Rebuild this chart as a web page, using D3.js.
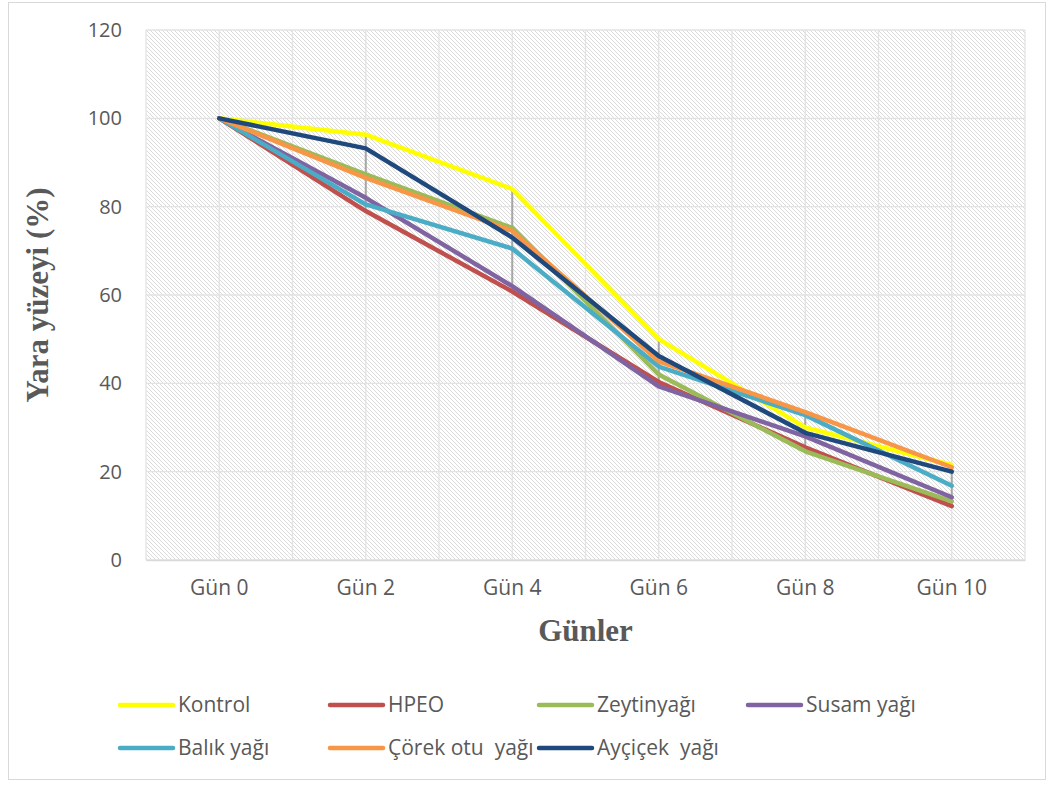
<!DOCTYPE html>
<html>
<head>
<meta charset="utf-8">
<script src="https://cdn.jsdelivr.net/npm/d3@7"></script>
<style>
  body { margin: 0; background: #fff; }
  text { font-family: "Open Sans", "Noto Sans", sans-serif; }
</style>
</head>
<body>
<div id="chart"></div>
<script>
// Data
const days = ['Gün 0', 'Gün 2', 'Gün 4', 'Gün 6', 'Gün 8', 'Gün 10']
const yTicks = [0, 20, 40, 60, 80, 100, 120]

const kontrol = [100, 96.3, 84, 50, 30, 21.5]
const hpeo = [100, 79, 60.8, 40.3, 25.5, 12.2]
const zeytin = [100, 87.3, 75.2, 42, 24.6, 13.3]
const susam = [100, 82, 62, 39.3, 28, 14.2]
const balik = [100, 80.5, 70.5, 43.8, 32.8, 16.8]
const corek = [100, 86.5, 74.5, 45, 33.5, 21]
const aycicek = [100, 93.2, 73, 46.2, 28.8, 20]

const seriesNames = ['Kontrol', 'HPEO', 'Zeytinyağı', 'Susam yağı', 'Balık yağı', 'Çörek otu  yağı', 'Ayçiçek  yağı']
const seriesColors = ['#FFFF00', '#C0504D', '#9BBB59', '#8064A2', '#4BACC6', '#F79646', '#1F497D']
const seriesValues = [kontrol, hpeo, zeytin, susam, balik, corek, aycicek]

// Dimensions
const dimensions = {
  width: 1052,
  height: 785,
  left: 146,
  top: 30,
  right: 1025,
  bottom: 560,
}

const svg = d3.select('#chart')
  .append('svg')
  .attr('width', dimensions.width)
  .attr('height', dimensions.height)

// hatch pattern for plot area
const defs = svg.append('defs')
const pat = defs.append('pattern')
  .attr('id', 'hatch')
  .attr('patternUnits', 'userSpaceOnUse')
  .attr('width', 4)
  .attr('height', 4)
pat.append('rect').attr('width', 4).attr('height', 4).attr('fill', '#fff')
pat.append('path')
  .attr('d', 'M-1,-1 L5,5 M-1,3 L1,5 M3,-1 L5,1')
  .attr('stroke', '#dadada')
  .attr('stroke-width', 1)

// outer border
svg.append('rect')
  .attr('x', 8.5).attr('y', 2.5)
  .attr('width', 1037).attr('height', 777)
  .attr('fill', 'none')
  .attr('stroke', '#d9d9d9')

// Scales
const xScale = d3.scaleBand()
  .domain(days)
  .range([dimensions.left, dimensions.right])

const yScale = d3.scaleLinear()
  .domain([0, 120])
  .range([dimensions.bottom, dimensions.top])

const xCenter = d => xScale(d) + xScale.bandwidth() / 2

// plot area
svg.append('rect')
  .attr('x', dimensions.left)
  .attr('y', dimensions.top)
  .attr('width', dimensions.right - dimensions.left)
  .attr('height', dimensions.bottom - dimensions.top)
  .attr('fill', 'url(#hatch)')

// gridlines
const grid = svg.append('g')
  .attr('stroke', '#e3e3e3')
  .attr('stroke-width', 1.3)
grid.selectAll('.hg')
  .data(yTicks)
  .join('line')
  .attr('x1', dimensions.left).attr('x2', dimensions.right)
  .attr('y1', d => yScale(d)).attr('y2', d => yScale(d))

const vPositions = []
days.forEach(d => { vPositions.push(xScale(d)); vPositions.push(xCenter(d)) })
vPositions.push(dimensions.right)
grid.selectAll('.vg')
  .data(vPositions)
  .join('line')
  .attr('x1', d => d).attr('x2', d => d)
  .attr('y1', dimensions.top).attr('y2', dimensions.bottom)

// axes
const yAxis = d3.axisLeft(yScale).tickValues(yTicks).tickSize(0).tickPadding(24)
const yAxisGroup = svg.append('g')
  .attr('transform', `translate(${dimensions.left},0)`)
  .call(yAxis)
yAxisGroup.select('.domain').remove()
yAxisGroup.selectAll('text')
  .attr('font-size', 20)
  .attr('fill', '#595959')
  .style('font-family', '"Open Sans", sans-serif')

const xAxis = d3.axisBottom(xScale).tickSize(0).tickPadding(20)
const xAxisGroup = svg.append('g')
  .attr('transform', `translate(0,${dimensions.bottom})`)
  .call(xAxis)
xAxisGroup.select('.domain')
  .attr('stroke', '#d9d9d9')
  .attr('stroke-width', 1.3)
xAxisGroup.selectAll('text')
  .attr('font-size', 21)
  .attr('fill', '#595959')
  .style('font-family', '"Open Sans", sans-serif')

// axis titles
svg.append('text')
  .attr('transform', `translate(48,${(dimensions.top + dimensions.bottom) / 2}) rotate(-90)`)
  .attr('text-anchor', 'middle')
  .style('font-family', '"Liberation Serif", "Times New Roman", serif')
  .attr('font-weight', 'bold')
  .attr('font-size', 31)
  .attr('fill', '#595959')
  .text('Yara yüzeyi (%)')

svg.append('text')
  .attr('x', (dimensions.left + dimensions.right) / 2)
  .attr('y', 641)
  .attr('text-anchor', 'middle')
  .style('font-family', '"Liberation Serif", "Times New Roman", serif')
  .attr('font-weight', 'bold')
  .attr('font-size', 31)
  .attr('fill', '#595959')
  .text('Günler')

// high-low lines
svg.append('g')
  .selectAll('line')
  .data(days)
  .join('line')
  .attr('x1', d => xCenter(d)).attr('x2', d => xCenter(d))
  .attr('y1', (d, i) => yScale(d3.max(seriesValues, s => s[i])))
  .attr('y2', (d, i) => yScale(d3.min(seriesValues, s => s[i])))
  .attr('stroke', '#a6a6a6')
  .attr('stroke-width', 2)

// LINES
const lineGenerator = d3.line()
  .x((d, i) => xCenter(days[i]))
  .y(d => yScale(d))

svg.append('g')
  .selectAll('path')
  .data(seriesValues)
  .join('path')
  .attr('d', lineGenerator)
  .attr('fill', 'none')
  .attr('stroke', (d, i) => seriesColors[i])
  .attr('stroke-width', 4.5)
  .attr('stroke-linejoin', 'round')
  .attr('stroke-linecap', 'round')

// legend
const legendCols = [120, 330, 539, 748]
const legendRows = [705, 748]
const legend = svg.append('g')
  .selectAll('g')
  .data(seriesNames)
  .join('g')
  .attr('transform', (d, i) => `translate(${legendCols[i % 4]},${legendRows[Math.floor(i / 4)]})`)
legend.append('line')
  .attr('x1', 0).attr('x2', 53)
  .attr('stroke', (d, i) => seriesColors[i])
  .attr('stroke-width', 4.5)
  .attr('stroke-linecap', 'round')
legend.append('text')
  .attr('x', 58)
  .attr('dy', '0.35em')
  .attr('font-size', 21)
  .attr('fill', '#595959')
  .style('white-space', 'pre')
  .text(d => d)
</script>
</body>
</html>
